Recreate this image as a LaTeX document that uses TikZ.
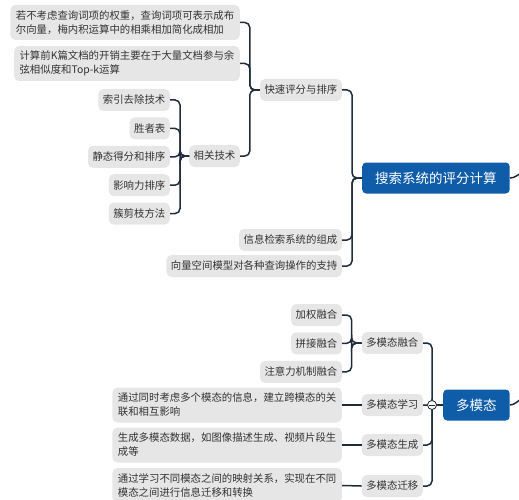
\documentclass[tikz,border=0pt]{standalone}
\usepackage{fontspec}
\setmainfont{Noto Sans CJK SC}
\usetikzlibrary{positioning}
\definecolor{zhulan}{HTML}{0F5CA8}
\definecolor{huise}{HTML}{E6E6E6}
\definecolor{xianse}{HTML}{1E2C3C}
\tikzset{
  topic/.style={fill=zhulan, text=white, rounded corners=4pt, inner xsep=13pt, minimum height=31pt, font=\fontsize{13.5}{16}\selectfont},
  sub/.style={fill=huise, text=black!80, rounded corners=5pt, inner xsep=4.5pt, inner ysep=3pt, minimum height=22pt, font=\fontsize{10.4}{14}\selectfont},
  note/.style={sub, align=left, minimum height=35pt, inner xsep=5.5pt},
  link/.style={draw=xianse, line width=1.5pt, rounded corners=5pt},
  fold/.style={circle, draw=xianse, line width=0.8pt, fill=white, minimum size=9pt, inner sep=0pt,
    path picture={\draw[xianse, line width=0.8pt] ([xshift=-2.6pt]path picture bounding box.center) -- ([xshift=2.6pt]path picture bounding box.center);}}
}

\begin{document}
\begin{tikzpicture}[x=1pt, y=-1pt]
  \useasboundingbox (0,0) rectangle (519,500);

  \node[topic, anchor=west] (pingfen) at (362,178) {搜索系统的评分计算};
  \node[sub, anchor=east] (kuaisu) at (342,90) {快速评分与排序};
  \node[note, anchor=east] (quanzhong) at (240,22.5) {若不考虑查询词项的权重，查询词项可表示成布\\尔向量，梅内积运算中的相乘相加简化成相加};
  \node[note, anchor=east] (kaixiao) at (240,63.5) {计算前K篇文档的开销主要在于大量文档参与余\\弦相似度和Top-k运算};
  \node[sub, anchor=east] (xiangguan) at (240,156) {相关技术};
  \node[sub, anchor=east] (suoyin) at (170,100) {索引去除技术};
  \node[sub, below left=6pt and 0pt of suoyin.south east] (shengzhe) {胜者表};
  \node[sub, below left=6pt and 0pt of shengzhe.south east] (jingtai) {静态得分和排序};
  \node[sub, below left=6pt and 0pt of jingtai.south east] (yingxiang) {影响力排序};
  \node[sub, below left=6pt and 0pt of yingxiang.south east] (cujianzhi) {簇剪枝方法};
  \node[sub, anchor=east] (zucheng) at (342,240) {信息检索系统的组成};
  \node[sub, anchor=east] (zhichi) at (342,266) {向量空间模型对各种查询操作的支持};

  \node[topic, anchor=west] (duomotai) at (443,405) {多模态};
  \node[sub, anchor=east] (ronghe) at (423,343) {多模态融合};
  \node[sub, anchor=east] (jiaquan) at (342,315) {加权融合};
  \node[sub, below left=6pt and 0pt of jiaquan.south east] (pinjie) {拼接融合};
  \node[sub, below left=6pt and 0pt of pinjie.south east] (zhuyili) {注意力机制融合};
  \node[sub, anchor=east] (xuexi) at (423,405) {多模态学习};
  \node[note, anchor=east] (xuexishuo) at (342,405) {通过同时考虑多个模态的信息，建立跨模态的关\\联和相互影响};
  \node[sub, anchor=east] (shengcheng) at (423,445) {多模态生成};
  \node[note, anchor=east] (shengchengshuo) at (342,445) {生成多模态数据，如图像描述生成、视频片段生\\成等};
  \node[sub, anchor=east] (qianyi) at (423,486) {多模态迁移};
  \node[note, anchor=east] (qianyishuo) at (342,485.5) {通过学习不同模态之间的映射关系，实现在不同\\模态之间进行信息迁移和转换};

  \draw[link] (pingfen.west) -- ++(-10,0) |- (kuaisu.east);
  \draw[link] (pingfen.west) -- ++(-10,0) |- (zucheng.east);
  \draw[link] (pingfen.west) -- ++(-10,0) |- (zhichi.east);
  \draw[link] (kuaisu.west) -- ++(-10,0) |- (quanzhong.east);
  \draw[link] (kuaisu.west) -- ++(-10,0) |- (kaixiao.east);
  \draw[link] (kuaisu.west) -- ++(-10,0) |- (xiangguan.east);
  \draw[link] (xiangguan.west) -- ++(-9,0) |- (suoyin.east);
  \draw[link] (xiangguan.west) -- ++(-9,0) |- (shengzhe.east);
  \draw[link] (xiangguan.west) -- ++(-9,0) |- (jingtai.east);
  \draw[link] (xiangguan.west) -- ++(-9,0) |- (yingxiang.east);
  \draw[link] (xiangguan.west) -- ++(-9,0) |- (cujianzhi.east);

  \draw[link] (duomotai.west) -- ++(-11,0) |- (ronghe.east);
  \draw[link] (duomotai.west) -- ++(-11,0) |- (xuexi.east);
  \draw[link] (duomotai.west) -- ++(-11,0) |- (shengcheng.east);
  \draw[link] (duomotai.west) -- ++(-11,0) |- (qianyi.east);
  \draw[link] (ronghe.west) -- ++(-10,0) |- (jiaquan.east);
  \draw[link] (ronghe.west) -- ++(-10,0) |- (pinjie.east);
  \draw[link] (ronghe.west) -- ++(-10,0) |- (zhuyili.east);
  \draw[link] (xuexi.west) -- (xuexishuo.east);
  \draw[link] (shengcheng.west) -- (shengchengshuo.east);
  \draw[link] (qianyi.west) -- (qianyishuo.east);

  \coordinate (youbian1) at (522,173);
  \coordinate (youbian2) at (522,399);
  \draw[link] (pingfen.east) to[out=0, in=200] (youbian1);
  \draw[link] (duomotai.east) to[out=0, in=200] (youbian2);

  \node[fold] (zhedie) at (432,405) {};
\end{tikzpicture}
\end{document}
